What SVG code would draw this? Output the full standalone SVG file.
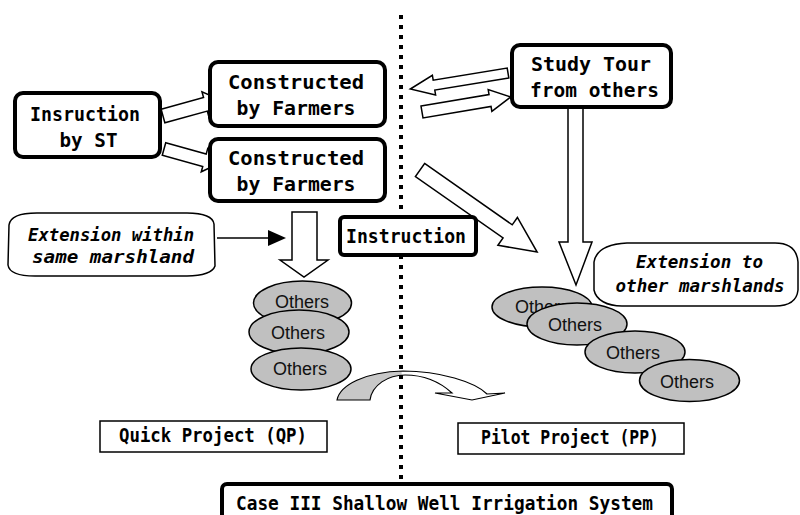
<svg xmlns="http://www.w3.org/2000/svg" width="800" height="515" viewBox="0 0 800 515">
<defs>
<style>
.box{fill:#fff;stroke:#000;stroke-width:4}
.thin{fill:#fff;stroke:#000;stroke-width:1.5}
.blk{fill:#fff;stroke:#000;stroke-width:1.5;stroke-linejoin:miter}
.ell{fill:#c0c0c0;stroke:#000;stroke-width:1.5}
.mono{font-family:"DejaVu Sans Mono","Liberation Mono",monospace;font-weight:bold;font-size:20px;fill:#000;text-anchor:middle}
.it{font-style:italic;font-size:18px}
.oth{font-family:"Liberation Sans",Arial,sans-serif;font-size:18px;fill:#111;text-anchor:middle}
</style>
<marker id="tri" markerUnits="userSpaceOnUse" markerWidth="20" markerHeight="18" refX="0" refY="8" orient="auto">
<path d="M0,0 L18,8 L0,16 Z" fill="#000"/>
</marker>
<linearGradient id="cg" gradientUnits="userSpaceOnUse" x1="337" y1="0" x2="505" y2="0">
<stop offset="0" stop-color="#c8c8c8"/>
<stop offset="0.38" stop-color="#c8c8c8"/>
<stop offset="0.39" stop-color="#fff"/>
<stop offset="1" stop-color="#fff"/>
</linearGradient>
</defs>
<rect width="800" height="515" fill="#fff"/>

<g id="connectors">
<polygon class="blk" transform="translate(163,116) rotate(-15.4)" points="0,-7 44,-7 44,-13 60,0 44,13 44,7 0,7"/>
<polygon class="blk" transform="translate(164,149) rotate(15.5)" points="0,-6.5 42,-6.5 42,-12 56,0 42,12 42,6.5 0,6.5"/>
<polygon class="blk" transform="translate(508,73) rotate(170.7)" points="0,-5 75,-5 75,-10 99,0 75,10 75,5 0,5"/>
<polygon class="blk" transform="translate(422,112) rotate(-9.6)" points="0,-6 69,-6 69,-11 90,0 69,11 69,6 0,6"/>
<polygon class="blk" transform="translate(420,170) rotate(35)" points="0,-8 107,-8 107,-17 143,0 107,17 107,8 0,8"/>
<polygon class="blk" points="292,212 317,212 317,260 328,260 304,277 280,260 292,260"/>
<polygon class="blk" points="568,108 583,108 583,242 592,242 576,285 559,242 568,242"/>
<line x1="217" y1="238" x2="268" y2="238" stroke="#000" stroke-width="1.5" marker-end="url(#tri)"/>
<path d="M337,400 C340,385 365,372 403,371 C440,371 475,382 487,394 L505,393 L472,400 L435,393 L452,393 C440,382 425,375 405,375 C388,375 372,385 370,400 Z" fill="url(#cg)" stroke="#000" stroke-width="1.2"/>
</g>

<g id="divider">
<line x1="401" y1="15" x2="401" y2="481" stroke="#000" stroke-width="4" stroke-dasharray="4 6"/>
</g>

<g id="node-insruction">
<rect class="box" x="15" y="93" width="145" height="64" rx="8"/>
<text class="mono" x="85" y="121" textLength="110" lengthAdjust="spacingAndGlyphs">Insruction</text>
<text class="mono" x="88.5" y="147" textLength="58" lengthAdjust="spacingAndGlyphs">by ST</text>
</g>

<g id="node-constructed1">
<rect class="box" x="210" y="62" width="175" height="64" rx="8"/>
<text class="mono" x="296" y="89" textLength="136" lengthAdjust="spacingAndGlyphs">Constructed</text>
<text class="mono" x="296" y="115" textLength="119" lengthAdjust="spacingAndGlyphs">by Farmers</text>
</g>

<g id="node-constructed2">
<rect class="box" x="210" y="139" width="175" height="62" rx="8"/>
<text class="mono" x="296" y="165" textLength="136" lengthAdjust="spacingAndGlyphs">Constructed</text>
<text class="mono" x="296" y="191" textLength="119" lengthAdjust="spacingAndGlyphs">by Farmers</text>
</g>

<g id="node-studytour">
<rect class="box" x="512" y="45" width="159" height="62" rx="8"/>
<text class="mono" x="591" y="71" textLength="120" lengthAdjust="spacingAndGlyphs">Study Tour</text>
<text class="mono" x="594.5" y="97" textLength="129" lengthAdjust="spacingAndGlyphs">from others</text>
</g>

<g id="node-instruction">
<rect class="box" x="340" y="217" width="136" height="38" rx="4"/>
<text class="mono" x="406" y="243" textLength="120" lengthAdjust="spacingAndGlyphs">Instruction</text>
</g>

<g id="node-ext-within">
<path class="thin" d="M9,225 C10,217 20,213 37,213 L187,213 C203,213 213,217 214,224 L215,266 C213,272 203,276 187,276 L35,276 C18,276 9,272 8,265 Z"/>
<text class="mono it" x="111" y="241" textLength="166" lengthAdjust="spacingAndGlyphs">Extension within</text>
<text class="mono it" x="113" y="263" textLength="162" lengthAdjust="spacingAndGlyphs">same marshland</text>
</g>

<g id="node-ext-other">
<path class="thin" d="M594,262 C596,250 607,244 627,243 L775,243 C790,243 797,250 798,262 L798,290 C797,300 790,306 775,306 L622,306 C607,306 596,300 594,290 Z"/>
<text class="mono it" x="699.5" y="268" textLength="127" lengthAdjust="spacingAndGlyphs">Extension to</text>
<text class="mono it" x="700" y="292" textLength="169" lengthAdjust="spacingAndGlyphs">other marshlands</text>
</g>

<g id="node-others-left1">
<ellipse class="ell" cx="302.5" cy="303" rx="49" ry="22"/>
<text class="oth" x="302" y="308">Others</text>
</g>
<g id="node-others-left2">
<ellipse class="ell" cx="299" cy="332" rx="50" ry="22"/>
<text class="oth" x="298" y="339">Others</text>
</g>
<g id="node-others-left3">
<ellipse class="ell" cx="301" cy="369" rx="50" ry="21"/>
<text class="oth" x="300" y="375">Others</text>
</g>

<g id="node-others-right1">
<ellipse class="ell" cx="542" cy="307" rx="50" ry="20"/>
<text class="oth" x="542" y="313">Others</text>
</g>
<g id="node-others-right2">
<ellipse class="ell" cx="577" cy="324" rx="50" ry="21"/>
<text class="oth" x="575" y="331">Others</text>
</g>
<g id="node-others-right3">
<ellipse class="ell" cx="635" cy="352" rx="50" ry="21"/>
<text class="oth" x="633" y="359">Others</text>
</g>
<g id="node-others-right4">
<ellipse class="ell" cx="689.5" cy="380.5" rx="50" ry="21"/>
<text class="oth" x="687" y="388">Others</text>
</g>

<g id="node-qp">
<rect class="thin" x="100" y="421" width="227" height="31"/>
<text class="mono" x="213" y="442" font-size="19" textLength="188" lengthAdjust="spacingAndGlyphs">Quick Project (QP)</text>
</g>

<g id="node-pp">
<rect class="thin" x="458" y="423" width="226" height="31"/>
<text class="mono" x="570" y="444" font-size="19" textLength="178" lengthAdjust="spacingAndGlyphs">Pilot Project (PP)</text>
</g>

<g id="node-title">
<rect class="box" x="222" y="484" width="450" height="40" rx="5"/>
<text class="mono" x="444.5" y="510" textLength="417" lengthAdjust="spacingAndGlyphs">Case III Shallow Well Irrigation System</text>
</g>
</svg>
